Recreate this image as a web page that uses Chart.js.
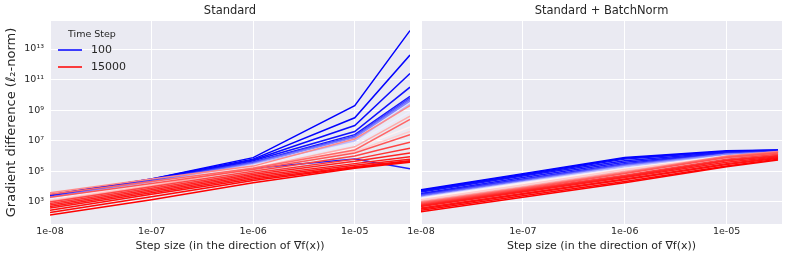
<!DOCTYPE html>
<html>
<head>
<meta charset="utf-8">
<script src="https://cdn.jsdelivr.net/npm/chart.js@4.4.0/dist/chart.umd.min.js"></script>
<style>
  html, body { margin: 0; padding: 0; background: #fff; }
  #wrap { position: relative; width: 789px; height: 260px; }
  canvas { position: absolute; top: 0; }
  #left { left: 0; }
  #right { left: 395px; }
</style>
</head>
<body>
<div id="wrap">
  <canvas id="left" width="415" height="260"></canvas>
  <canvas id="right" width="394" height="260"></canvas>
</div>
<script>
// time steps, blue (first) -> red (last)
const timeSteps = [100, 200, 400, 600, 800, 1000, 2000, 3000, 4000, 5500, 7000, 8000, 9000,
  10000, 11000, 12000, 12500, 13000, 13500, 14000, 14200, 14400, 14600, 14800, 15000];

const stepSizesStd = [1e-8, 1e-7, 1e-6, 1e-5, 3.5e-5];
const stepSizesBN = [1e-8, 1e-7, 1e-6, 1e-5, 3.2e-5];

// gradient difference per time step, standard network
const diffStd = [
  [2.8e3, 3.2e4, 7.9e5, 2.0e9, 1.6e14],
  [2.8e3, 3.2e4, 6.3e5, 3.2e8, 4.0e12],
  [2.5e3, 2.8e4, 5.6e5, 1.0e8, 2.5e11],
  [2.5e3, 2.5e4, 5.0e5, 4.0e7, 3.2e10],
  [2.2e3, 2.5e4, 4.0e5, 2.5e7, 7.9e9],
  [1.6e3, 1.6e4, 1.6e5, 6.3e5, 1.5e5],
  [2.2e3, 2.5e4, 4.0e5, 2.0e7, 6.3e9],
  [2.0e3, 2.2e4, 3.5e5, 1.8e7, 5.0e9],
  [2.0e3, 2.0e4, 3.2e5, 1.6e7, 4.0e9],
  [1.8e3, 1.8e4, 2.8e5, 1.0e7, 2.5e9],
  [1.6e3, 1.6e4, 2.5e5, 6.3e6, 7.9e8],
  [1.4e3, 1.4e4, 2.0e5, 3.2e6, 7.9e7],
  [1.3e3, 1.3e4, 1.8e5, 2.0e6, 4.0e7],
  [1.1e3, 1.1e4, 1.6e5, 4.0e6, 4.0e8],
  [4.0e3, 3.2e4, 2.2e5, 1.3e7, 2.0e9],
  [3.2e3, 2.2e4, 1.6e5, 2.5e6, 2.5e8],
  [2.0e3, 1.6e4, 1.3e5, 1.6e6, 2.5e7],
  [1.0e3, 1.0e4, 1.0e5, 1.0e6, 7.9e6],
  [7.9e2, 7.9e3, 7.9e4, 6.3e5, 3.2e6],
  [6.3e2, 6.3e3, 6.3e4, 4.5e5, 1.6e6],
  [5.0e2, 5.0e3, 5.0e4, 3.2e5, 8.9e5],
  [4.0e2, 4.0e3, 4.0e4, 2.5e5, 6.3e5],
  [2.8e2, 3.2e3, 3.2e4, 2.0e5, 5.0e5],
  [2.0e2, 2.2e3, 2.5e4, 1.8e5, 4.5e5],
  [1.4e2, 1.4e3, 1.8e4, 1.6e5, 4.0e5]
];

// gradient difference per time step, with batchnorm
const diffBN = [
  [6.3e3, 7.1e4, 7.9e5, 2.2e6, 2.5e6],
  [5.6e3, 6.3e4, 7.1e5, 2.0e6, 2.5e6],
  [5.0e3, 5.6e4, 6.3e5, 2.0e6, 2.2e6],
  [4.5e3, 5.0e4, 5.0e5, 1.8e6, 2.2e6],
  [3.5e3, 4.0e4, 4.0e5, 1.6e6, 2.0e6],
  [3.2e3, 3.2e4, 3.2e5, 1.6e6, 2.0e6],
  [2.8e3, 2.8e4, 2.8e5, 1.4e6, 2.0e6],
  [2.5e3, 2.5e4, 2.5e5, 1.3e6, 1.8e6],
  [2.2e3, 2.2e4, 2.2e5, 1.3e6, 1.8e6],
  [2.0e3, 2.0e4, 2.0e5, 1.1e6, 1.6e6],
  [1.8e3, 1.8e4, 1.6e5, 1.0e6, 1.6e6],
  [1.6e3, 1.6e4, 1.4e5, 1.0e6, 1.4e6],
  [1.4e3, 1.3e4, 1.3e5, 8.9e5, 1.3e6],
  [1.1e3, 1.0e4, 1.0e5, 7.9e5, 1.3e6],
  [1.0e3, 8.9e3, 8.9e4, 1.0e6, 2.0e6],
  [8.9e2, 7.9e3, 7.9e4, 8.9e5, 1.8e6],
  [7.9e2, 7.1e3, 7.1e4, 7.9e5, 1.6e6],
  [7.1e2, 6.3e3, 5.6e4, 6.3e5, 1.3e6],
  [6.3e2, 5.6e3, 5.0e4, 5.6e5, 1.1e6],
  [5.6e2, 5.0e3, 4.5e4, 5.0e5, 1.0e6],
  [5.0e2, 4.5e3, 4.0e4, 4.0e5, 8.9e5],
  [4.0e2, 3.5e3, 3.2e4, 3.2e5, 7.9e5],
  [3.5e2, 3.2e3, 2.8e4, 2.8e5, 7.1e5],
  [2.8e2, 2.5e3, 2.2e4, 2.2e5, 6.3e5],
  [2.3e2, 2.0e3, 1.8e4, 2.0e5, 5.6e5]
];

const xTickValues = [1e-8, 1e-7, 1e-6, 1e-5];
const xTickLabels = ['1e-08', '1e-07', '1e-06', '1e-05'];
const yTickValues = [1e3, 1e5, 1e7, 1e9, 1e11, 1e13];
const yTickLabels = ['10³', '10⁵', '10⁷', '10⁹', '10¹¹', '10¹³'];

const FONT = 'DejaVu Sans';
const TEXT = '#262626';
const T0 = timeSteps[0];
const T1 = timeSteps[timeSteps.length - 1];

// matplotlib 'bwr' colormap
function bwr(t) {
  let r, g, b;
  if (t < 0.5) { r = g = Math.round(510 * t); b = 255; }
  else { r = 255; g = b = Math.round(510 * (1 - t)); }
  return `rgb(${r},${g},${b})`;
}

const stepColor = t => bwr((t - T0) / (T1 - T0));

const bgPlugin = {
  id: 'bg',
  beforeDraw(chart) {
    const { ctx, chartArea: a } = chart;
    ctx.save();
    ctx.fillStyle = '#EAEAF2';
    ctx.fillRect(a.left, a.top, a.right - a.left, a.bottom - a.top);
    ctx.restore();
  }
};

const legendPlugin = {
  id: 'stepLegend',
  afterDraw(chart) {
    const ctx = chart.ctx;
    ctx.save();
    ctx.fillStyle = TEXT;
    ctx.textBaseline = 'middle';
    ctx.font = `9.5px ${FONT}`;
    ctx.fillText('Time Step', 68, 35);
    const items = [[T0, 50], [T1, 67]];
    ctx.font = `11px ${FONT}`;
    items.forEach(([t, y]) => {
      ctx.strokeStyle = stepColor(t);
      ctx.lineWidth = 1.5;
      ctx.beginPath();
      ctx.moveTo(58, y);
      ctx.lineTo(82, y);
      ctx.stroke();
      ctx.fillText(String(t), 91, y);
    });
    ctx.restore();
  }
};

function makeDatasets(rows, xs) {
  const n = rows.length;
  return rows.map((vals, i) => ({
    label: String(timeSteps[i]),
    data: vals.map((v, j) => ({ x: xs[j], y: v })),
    borderColor: stepColor(timeSteps[i]),
    borderWidth: 1.5,
    pointRadius: 0,
    tension: 0,
    fill: false,
    order: n - 1 - i
  }));
}

function makeChart(id, title, rows, xs, isLeft) {
  return new Chart(document.getElementById(id), {
    type: 'line',
    data: { datasets: makeDatasets(rows, xs) },
    options: {
      responsive: false,
      animation: false,
      events: [],
      layout: { autoPadding: false, padding: { left: 0, right: isLeft ? 5 : 7, top: 0, bottom: 0 } },
      plugins: {
        legend: { display: false },
        tooltip: { enabled: false },
        title: {
          display: true,
          text: title,
          fullSize: false,
          color: TEXT,
          font: { family: FONT, size: 11.5, weight: 'normal' },
          padding: { top: 4, bottom: 3.2 }
        }
      },
      scales: {
        x: {
          type: 'logarithmic',
          min: 1e-8,
          max: 3.5e-5,
          afterBuildTicks: s => { s.ticks = xTickValues.map(v => ({ value: v })); },
          afterFit: s => { s.height = 36; },
          ticks: {
            callback: (v, i) => xTickLabels[i],
            autoSkip: false,
            maxRotation: 0,
            color: TEXT,
            padding: 2,
            font: { family: FONT, size: 9.5 }
          },
          grid: { color: '#ffffff', lineWidth: 1, drawTicks: false },
          border: { display: false },
          title: {
            display: true,
            text: 'Step size (in the direction of ∇f(x))',
            color: TEXT,
            font: { family: FONT, size: 11 },
            padding: { top: 0, bottom: 7 }
          }
        },
        y: {
          type: 'logarithmic',
          min: 36,
          max: 6.8e14,
          afterBuildTicks: s => { s.ticks = yTickValues.map(v => ({ value: v })); },
          afterFit: s => { s.width = isLeft ? 50 : 26; },
          ticks: {
            display: isLeft,
            callback: (v, i) => yTickLabels[i],
            autoSkip: false,
            color: TEXT,
            padding: 6,
            font: { family: FONT, size: 9.5 }
          },
          grid: { color: '#ffffff', lineWidth: 1, drawTicks: false },
          border: { display: false },
          title: {
            display: isLeft,
            text: 'Gradient difference (ℓ₂-norm)',
            color: TEXT,
            font: { family: FONT, size: 13 },
            padding: { top: 4, bottom: 0 }
          }
        }
      }
    },
    plugins: isLeft ? [bgPlugin, legendPlugin] : [bgPlugin]
  });
}

makeChart('left', 'Standard', diffStd, stepSizesStd, true);
makeChart('right', 'Standard + BatchNorm', diffBN, stepSizesBN, false);
</script>
</body>
</html>
